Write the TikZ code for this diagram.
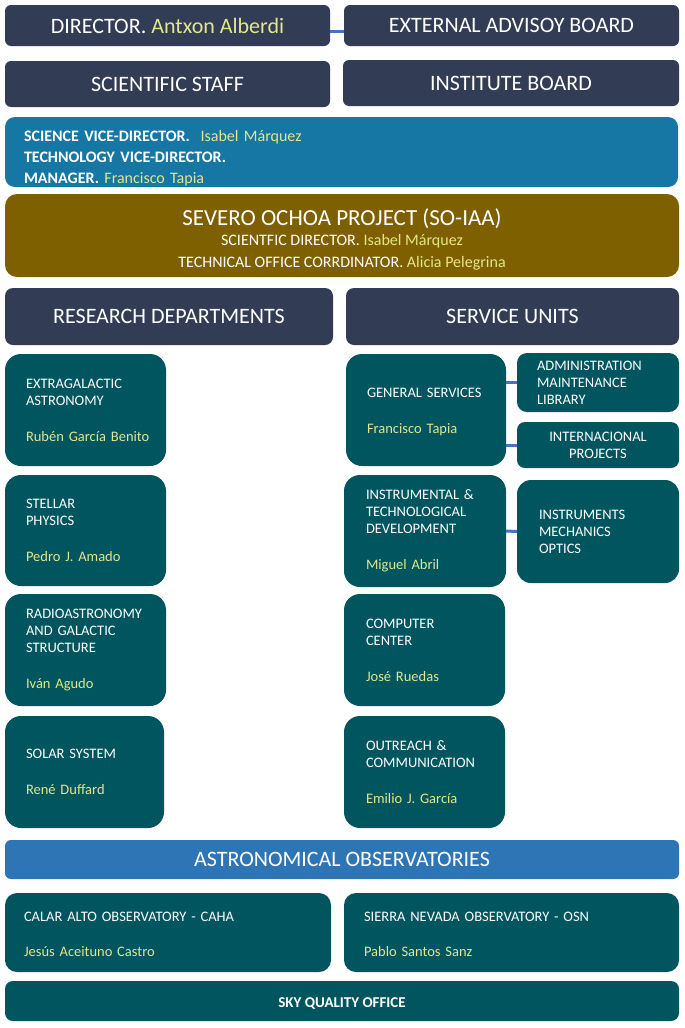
\documentclass[tikz,border=0pt]{standalone}
\usepackage{fontspec}
\setmainfont{Carlito}
\usepackage{xcolor}
\usepackage{tikz}
\definecolor{NavyBox}{RGB}{50, 61, 85}
\definecolor{TealBox}{RGB}{0, 85, 94}
\definecolor{ViceBlue}{RGB}{22, 118, 164}
\definecolor{OliveBox}{RGB}{127, 96, 0}
\definecolor{ObsBlue}{RGB}{46, 117, 182}
\definecolor{LinkBlue}{RGB}{68, 114, 196}
\definecolor{NameYellow}{RGB}{226, 230, 140}
\newcommand{\who}[1]{\mbox{\textcolor{NameYellow}{#1}}}
\tikzset{
    box/.style={rectangle, anchor=north west, inner sep=0pt, outer sep=0pt, text=white},
    headbox/.style={box, fill=NavyBox, rounded corners=6pt, font=\fontsize{22}{26}\selectfont},
    unitbox/.style={box, fill=TealBox, rounded corners=16pt, align=left, font=\fontsize{14.5}{17}\selectfont},
    link/.style={draw=LinkBlue, line width=3pt},
}

\begin{document}
\begin{tikzpicture}[x=1pt, y=-1pt]
    \fill[white] (0,0) rectangle (685,1028);
    \useasboundingbox (0,0) rectangle (685,1028);

    % direction
    \node[headbox, minimum width=325pt, minimum height=41pt] (director) at (5,5) {DIRECTOR. \who{Antxon Alberdi}};
    \node[headbox, minimum width=335pt, minimum height=41pt] (board) at (344,5) {EXTERNAL ADVISOY BOARD};
    \node[headbox, minimum width=325pt, minimum height=46pt] (staff) at (5,61) {SCIENTIFIC STAFF};
    \node[headbox, minimum width=336pt, minimum height=46pt] (instboard) at (343,60) {INSTITUTE BOARD};
    \draw[link] ([yshift=-6pt]director.east) -- ([yshift=-6pt]board.west);

    \node[box, fill=ViceBlue, rounded corners=10pt, minimum width=673pt, minimum height=70pt,
          inner xsep=19pt, text width=635pt, align=left, font=\fontsize{16}{21}\selectfont\bfseries] (vice) at (5,117) {
        \rule{0pt}{24pt}SCIENCE VICE-DIRECTOR.\ \ {\mdseries\who{Isabel Márquez}}\\
        TECHNOLOGY VICE-DIRECTOR.\\
        MANAGER. {\mdseries\who{Francisco Tapia}}
    };

    \node[box, fill=OliveBox, rounded corners=12pt, minimum width=674pt, minimum height=83pt,
          align=center, font=\fontsize{16}{22}\selectfont] (severo) at (5,194) {
        {\fontsize{23}{22}\selectfont\rule{0pt}{24.5pt}SEVERO OCHOA PROJECT (SO-IAA)}\\[-2.5pt]
        SCIENTFIC DIRECTOR. \who{Isabel Márquez}\\
        TECHNICAL OFFICE CORRDINATOR. \who{Alicia Pelegrina}
    };

    \node[headbox, rounded corners=8pt, minimum width=328pt, minimum height=57pt] (research) at (5,288) {RESEARCH DEPARTMENTS};
    \node[headbox, rounded corners=8pt, minimum width=333pt, minimum height=57pt] (service) at (346,288) {SERVICE UNITS};

    % research departments
    \node[unitbox, minimum width=161pt, minimum height=112pt, inner xsep=21pt, text width=119pt] (extragal) at (5,354) {
        EXTRAGALACTIC\\ASTRONOMY\\[19pt]\who{Rubén García Benito}};
    \node[unitbox, minimum width=161pt, minimum height=111pt, inner xsep=21pt, text width=119pt] (stellar) at (5,475) {
        STELLAR\\PHYSICS\\[19pt]\who{Pedro J. Amado}};
    \node[unitbox, minimum width=161pt, minimum height=112pt, inner xsep=21pt, text width=119pt] (radio) at (5,594) {
        RADIOASTRONOMY\\AND GALACTIC\\STRUCTURE\\[19pt]\who{Iván Agudo}};
    \node[unitbox, minimum width=159pt, minimum height=112pt, inner xsep=21pt, text width=117pt] (solar) at (5,716) {
        SOLAR SYSTEM\\[19pt]\who{René Duffard}};

    % service units
    \node[unitbox, minimum width=160pt, minimum height=112pt, inner xsep=21pt, text width=118pt] (general) at (346,354) {
        \rule{0pt}{14.3pt}GENERAL SERVICES\\[19pt]\who{Francisco Tapia}};
    \node[unitbox, rounded corners=10pt, minimum width=162pt, minimum height=59pt, inner xsep=20pt, text width=122pt] (admin) at (517,353) {
        ADMINISTRATION\\MAINTENANCE\\LIBRARY};
    \node[unitbox, rounded corners=8pt, minimum width=162pt, minimum height=46pt, align=center] (intl) at (517,422) {
        INTERNACIONAL\\PROJECTS};
    \node[unitbox, minimum width=162pt, minimum height=112pt, inner xsep=22pt, text width=118pt] (instrum) at (344,475) {
        INSTRUMENTAL \&\\TECHNOLOGICAL\\DEVELOPMENT\\[19pt]\who{Miguel Abril}};
    \node[unitbox, rounded corners=14pt, minimum width=162pt, minimum height=103pt, inner xsep=22pt, text width=118pt] (instruments) at (517,480) {
        INSTRUMENTS\\MECHANICS\\OPTICS};
    \node[unitbox, minimum width=161pt, minimum height=112pt, inner xsep=22pt, text width=117pt] (computer) at (344,594) {
        COMPUTER\\CENTER\\[19pt]\who{José Ruedas}};
    \node[unitbox, minimum width=161pt, minimum height=112pt, inner xsep=22pt, text width=117pt] (outreach) at (344,716) {
        OUTREACH \&\\COMMUNICATION\\[19pt]\who{Emilio J. García}};

    \draw[link] (general.east |- admin.west) -- (admin.west);
    \draw[link] (general.east |- intl.west) -- (intl.west);
    \draw[link] (instrum.east) -- (instruments.west);

    % observatories
    \node[box, fill=ObsBlue, rounded corners=6pt, minimum width=674pt, minimum height=39pt,
          font=\fontsize{22}{26}\selectfont] (observ) at (5,840) {ASTRONOMICAL OBSERVATORIES};
    \node[unitbox, rounded corners=12pt, minimum width=326pt, minimum height=79pt, inner xsep=19pt, text width=288pt] (caha) at (5,893) {
        \rule{0pt}{13.5pt}CALAR ALTO OBSERVATORY - CAHA\\[18pt]\who{Jesús Aceituno Castro}};
    \node[unitbox, rounded corners=12pt, minimum width=335pt, minimum height=79pt, inner xsep=20pt, text width=295pt] (osn) at (344,893) {
        \rule{0pt}{13.5pt}SIERRA NEVADA OBSERVATORY - OSN\\[18pt]\who{Pablo Santos Sanz}};
    \node[box, fill=TealBox, rounded corners=8pt, minimum width=674pt, minimum height=40pt,
          font=\fontsize{15}{17}\selectfont\bfseries] (sky) at (5,981) {\rule{0pt}{15.7pt}SKY QUALITY OFFICE};
\end{tikzpicture}
\end{document}
